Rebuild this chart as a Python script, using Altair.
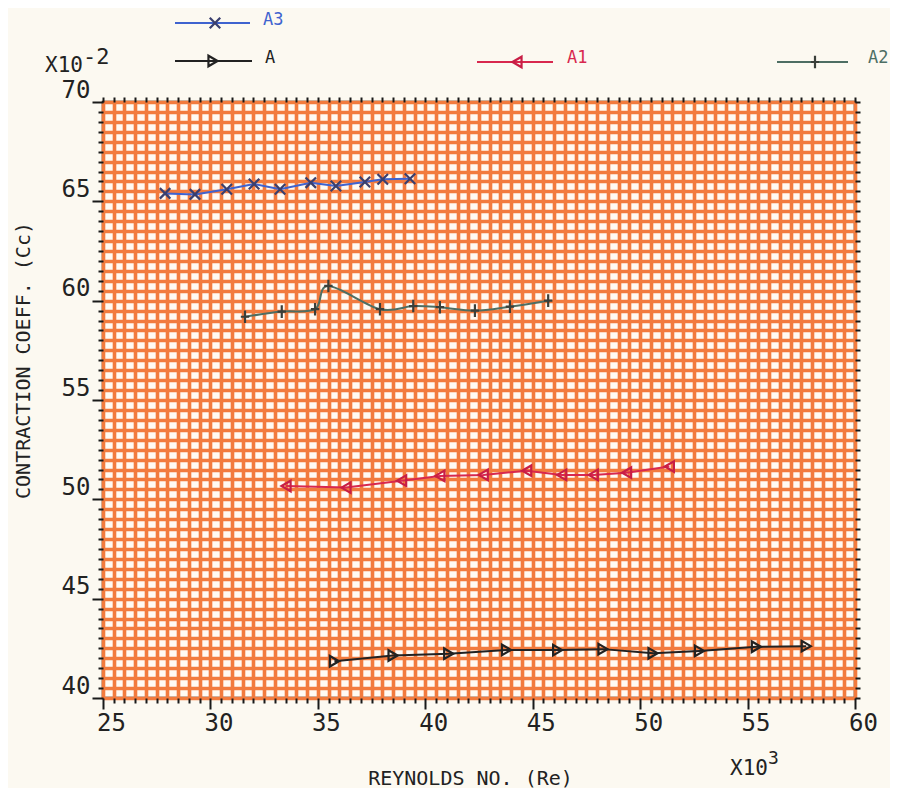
import altair as alt
import pandas as pd

# ---------------- data ----------------
a3_x = [27.89, 29.28, 30.76, 32.03, 33.24, 34.67, 35.84, 37.19, 38.02, 39.29]
a3_y = [65.40, 65.35, 65.61, 65.87, 65.61, 65.94, 65.77, 65.97, 66.11, 66.14]

a2_x = [31.61, 33.32, 34.87, 35.49, 37.89, 39.44, 40.68, 42.31, 43.94, 45.72]
a2_y = [59.19, 59.45, 59.57, 60.74, 59.57, 59.73, 59.67, 59.50, 59.70, 60.00]

a1_x = [33.52, 36.31, 38.90, 40.68, 42.70, 44.72, 46.35, 47.82, 49.37, 51.36]
a1_y = [50.67, 50.59, 50.94, 51.18, 51.23, 51.44, 51.23, 51.23, 51.34, 51.65]

a_x = [35.77, 38.50, 41.09, 43.78, 46.16, 48.27, 50.60, 52.76, 55.41, 57.73]
a_y = [41.85, 42.14, 42.23, 42.42, 42.41, 42.46, 42.25, 42.37, 42.58, 42.61]

x_ticks = [25 + 0.5 * i for i in range(71)]
y_ticks = [40 + 0.5 * i for i in range(61)]

FONT = "DejaVu Sans Mono"
W, H = 752, 596

X_PATH = "M-1,-1L1,1M-1,1L1,-1"
PLUS_PATH = "M0,-1.2L0,1.2M-0.8,0L0.8,0"

series = [
    # name, xs, ys, line colour, marker colour, shape, interpolate
    ("A3", a3_x, a3_y, "#3f63cf", "#3a3f6e", X_PATH, "linear"),
    ("A2", a2_x, a2_y, "#4d6e63", "#3a3f3a", PLUS_PATH, "cardinal"),
    ("A1", a1_x, a1_y, "#d8284e", "#c81e45", "triangle-left", "linear"),
    ("A", a_x, a_y, "#222222", "#222222", "triangle-right", "linear"),
]

xscale = alt.Scale(domain=[25, 60], nice=False, zero=False)
yscale = alt.Scale(domain=[40, 70], nice=False, zero=False)

major_tick = {"condition": {"test": "datum.value % 5 === 0", "value": 11}, "value": 5}
label_expr = "datum.value % 5 === 0 ? format(datum.value, 'd') : ''"
GRID = "#f27b3e"

x_axis_main = alt.Axis(
    values=x_ticks, grid=True, gridColor=GRID, gridWidth=3.6, gridOpacity=1,
    domain=False, tickColor="#1a1a1a", tickWidth=2, tickSize=major_tick,
    labelExpr=label_expr,
    labelFont=FONT, labelFontSize=24, labelColor="#222", labelPadding=2,
    labelOffset=8, labelFlush=False, labelOverlap=False,
    title="REYNOLDS NO. (Re)", titleFont=FONT, titleFontSize=20,
    titleFontWeight="normal", titleColor="#222",
    titleX=367, titleY=80, titleBaseline="middle", titleAlign="center",
)
y_axis_main = alt.Axis(
    values=y_ticks, grid=True, gridColor=GRID, gridWidth=3.6, gridOpacity=1,
    domain=False, tickColor="#1a1a1a", tickWidth=2, tickSize=major_tick,
    labelExpr=label_expr,
    labelFont=FONT, labelFontSize=24, labelColor="#222", labelPadding=2,
    labelBaseline="bottom", labelFlush=False, labelOverlap=False,
    title="CONTRACTION COEFF. (Cc)", titleFont=FONT, titleFontSize=20,
    titleFontWeight="normal", titleColor="#222",
    titleX=-80, titleY=258, titleAngle=270, titleBaseline="middle", titleAlign="center",
)
x_axis_top = alt.Axis(
    orient="top", values=x_ticks, grid=False, domain=False, labels=False,
    tickColor="#1a1a1a", tickWidth=2, tickSize=5, title=None,
)
y_axis_right = alt.Axis(
    orient="right", values=y_ticks, grid=False, domain=False, labels=False,
    tickColor="#1a1a1a", tickWidth=2, tickSize=5, title=None,
)

layers = []
for i, (name, xs, ys, lc, mc, shape, interp) in enumerate(series):
    df = pd.DataFrame({"re": xs, "cc": ys})
    if i == 0:
        xa, ya = x_axis_main, y_axis_main
    elif i == 1:
        xa, ya = x_axis_top, y_axis_right
    else:
        xa, ya = None, None
    line = alt.Chart(df).mark_line(color=lc, strokeWidth=2, interpolate=interp).encode(
        x=alt.X("re:Q", scale=xscale, axis=xa),
        y=alt.Y("cc:Q", scale=yscale, axis=ya),
    )
    pts = alt.Chart(df).mark_point(
        shape=shape, size=110, filled=False, color=mc, strokeWidth=2.2, opacity=1
    ).encode(
        x=alt.X("re:Q", scale=xscale, axis=None),
        y=alt.Y("cc:Q", scale=yscale, axis=None),
    )
    layers += [line, pts]

# ---------------- legend (scattered above the plot) ----------------
legend_pos = {
    "A3": (72, 147, -79, 112, 160, -82),
    "A2": (674, 745, -40, 712, 765, -44),
    "A1": (374, 450, -40, 414, 464, -44),
    "A": (72, 149, -41, 110, 162, -44),
}
one = alt.Data(values=[{"k": 1}])
for name, xs, ys, lc, mc, shape, interp in series:
    x1, x2, ly, mx, tx, ty = legend_pos[name]
    layers.append(
        alt.Chart(one).mark_rule(color=lc, strokeWidth=2).encode(
            x=alt.value(x1), x2=alt.value(x2), y=alt.value(ly)
        )
    )
    layers.append(
        alt.Chart(one).mark_point(
            shape=shape, size=110, filled=False, color=mc, strokeWidth=2.2, opacity=1
        ).encode(x=alt.value(mx), y=alt.value(ly))
    )
    layers.append(
        alt.Chart(one).mark_text(
            text=name, font=FONT, fontSize=17, color=lc, align="left", baseline="middle"
        ).encode(x=alt.value(tx), y=alt.value(ty))
    )

# multiplier annotations
def txt(t, x, y, size):
    return alt.Chart(one).mark_text(
        text=t, font=FONT, fontSize=size, color="#222", align="left", baseline="alphabetic"
    ).encode(x=alt.value(x), y=alt.value(y))

layers += [
    txt("X10", -58, -30, 21),
    txt("-2", -20, -38, 22),
    txt("X10", 627, 673, 21),
    txt("3", 665, 662, 18),
]

chart = alt.layer(*layers).resolve_axis(x="independent", y="independent").properties(
    width=W, height=H,
    autosize=alt.AutoSizeParams(type="none"),
    padding={"left": 95, "top": 94, "right": 35, "bottom": 90},
    background="#fcf9f1",
).configure_view(
    fill="#fffaf3", stroke="#1a1a1a", strokeWidth=2.5
)

chart.save("out.html", embed_options={"renderer": "svg", "actions": False})
